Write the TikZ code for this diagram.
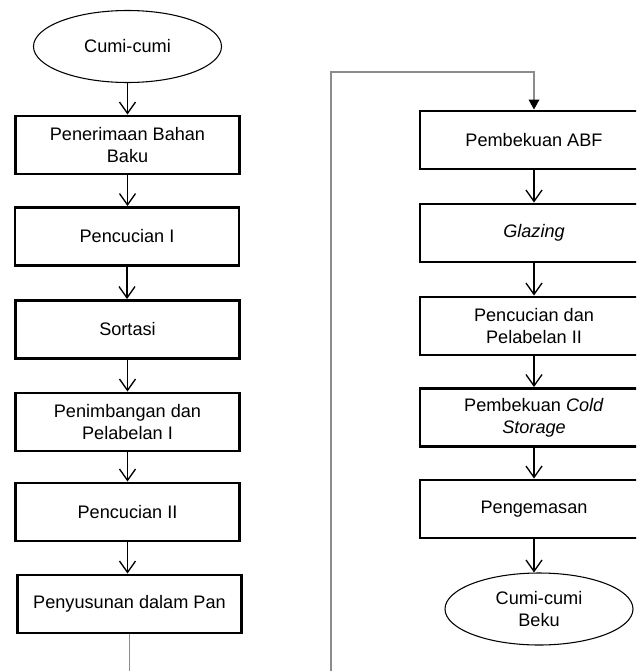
\documentclass[tikz,border=0pt]{standalone}
\usepackage{fontspec}
\setmainfont{Liberation Sans}
\usetikzlibrary{arrows.meta,shapes.geometric}
\tikzset{
	stepbox/.style={draw,line width=2.2pt,minimum width=168pt,minimum height=43.5pt,align=center,inner sep=2pt,font=\fontsize{13.6}{16.3}\selectfont},
	terminal/.style={draw,ellipse,line width=0.8pt,minimum width=141pt,minimum height=54pt,align=center,inner sep=1pt,font=\fontsize{13.6}{16.3}\selectfont},
	flow/.style={line width=1pt,-{Straight Barb[length=8.5pt,width=12pt,line width=1pt]}},
	jump/.style={line width=1pt,black!45,-{Triangle[length=7.5pt,width=8pt,black]}},
}
\begin{document}
\begin{tikzpicture}[x=0.75pt,y=-0.75pt]
		\useasboundingbox (0,0) rectangle (636,671);
		\clip (0,0) rectangle (636,671);
		% kolom kiri
		\node[terminal] (mulai) at (127.5,46.5) {Cumi-cumi};
		\node[stepbox] (terima) at (127.5,145) {Penerimaan Bahan\\Baku};
		\node[stepbox] (cuci1) at (127,236.5) {Pencucian I};
		\node[stepbox] (sortasi) at (127.5,329.5) {Sortasi};
		\node[stepbox] (timbang) at (127.5,422) {Penimbangan dan\\Pelabelan I};
		\node[stepbox] (cuci2) at (127.5,512) {Pencucian II};
		\node[stepbox] (susun) at (129.5,604) {Penyusunan dalam Pan};
		% kolom kanan
		\node[stepbox,minimum width=171pt] (abf) at (534,140) {Pembekuan ABF};
		\node[stepbox,minimum width=171pt] (glazing) at (534,233) {\textit{Glazing}};
		\node[stepbox,minimum width=171pt] (cuci3) at (534,326) {Pencucian dan\\Pelabelan II};
		\node[stepbox,minimum width=171pt] (cold) at (534,417.5) {Pembekuan \textit{Cold}\\\textit{Storage}};
		\node[stepbox,minimum width=171pt] (kemas) at (534,509) {Pengemasan};
		\node[terminal] (selesai) at (539,609) {Cumi-cumi\\Beku};
		\foreach \a/\b in {mulai/terima,terima/cuci1,cuci1/sortasi,sortasi/timbang,timbang/cuci2,cuci2/susun,abf/glazing,glazing/cuci3,cuci3/cold,cold/kemas,kemas/selesai}
			\draw[flow] (\a.south) -- (\a.south |- \b.north);
		% sambungan antar kolom
		\coordinate (bawah) at (129.5,700);
		\coordinate (atas) at (331,72);
		\draw[jump] (susun.south) -- (bawah) -| (atas) -| (abf.north);
	\end{tikzpicture}
\end{document}
